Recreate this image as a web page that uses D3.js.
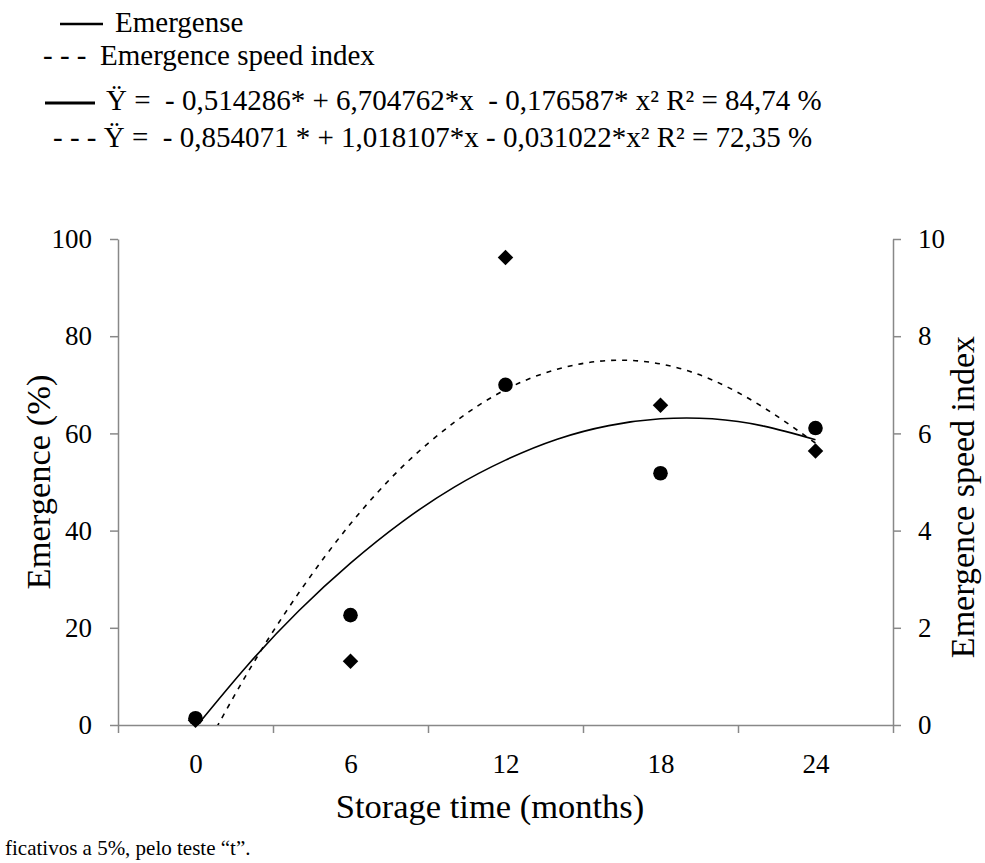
<!DOCTYPE html>
<html>
  <head>
    <meta http-equiv="content-type" content="text/html; charset=utf-8" />
    <title>Emergence and emergence speed index</title>
    <script type="text/javascript" src="https://cdn.jsdelivr.net/npm/d3@7"></script>
    <style type="text/css">
      body { margin: 0; background: #fff; }
      text { font-family: "Liberation Serif", "Times New Roman", serif; fill: #000; }
      .axis path, .axis line { stroke: #888; stroke-width: 1.5; }
    </style>
  </head>
  <body>
    <script type="text/javascript">
// observed values (circles = emergence %, diamonds = speed index)
var months = [0, 6, 12, 18, 24];
var emergence = [1.4, 22.6, 70.0, 51.8, 61.1];
var speedIndex = [0.1, 1.31, 9.62, 6.58, 5.64];

// fitted curves, every 2 months
var fitMonths = [0, 2, 4, 6, 8, 10, 12, 14, 16, 18, 20, 22, 24];
var emergenceFit = [-0.5, 12.2, 23.5, 33.3, 41.8, 48.9, 54.5, 58.8, 61.6, 63.0, 63.0, 61.5, 58.7];
var speedIndexFit = [-0.85, 1.06, 2.72, 4.14, 5.31, 6.22, 6.90, 7.32, 7.50, 7.43, 7.10, 6.53, 5.8];

var xTicks = [-3, 3, 9, 15, 21, 27];
var xLabels = [0, 6, 12, 18, 24];
var leftTicks = [0, 20, 40, 60, 80, 100];
var rightTicks = [0, 2, 4, 6, 8, 10];

var legendLines = [
  "Emergense",
  "Emergence speed index",
  "\u0178 =  - 0,514286* + 6,704762*x  - 0,176587* x\u00b2 R\u00b2 = 84,74 %",
  "- - - \u0178 =  - 0,854071 * + 1,018107*x - 0,031022*x\u00b2 R\u00b2 = 72,35 %"
];
var footnote = "ficativos a 5%, pelo teste \u201ct\u201d.";

// plot box (window.top is read-only, so no bare "top" here)
var w = 985, h = 863,
    pL = 118, pR = 893, pT = 239, pB = 725;

var svg = d3.select('body').append('svg')
    .attr('width', w)
    .attr('height', h);

var x = d3.scaleLinear().domain([-3, 27]).range([pL, pR]);
var y = d3.scaleLinear().domain([0, 100]).range([pB, pT]);
var y2 = d3.scaleLinear().domain([0, 10]).range([pB, pT]);

// axes
svg.append('g').attr('class', 'axis')
  .attr('transform', 'translate(0,' + pB + ')')
  .call(d3.axisBottom(x).tickValues(xTicks).tickSize(8).tickSizeOuter(0).tickFormat(''));

var xl = svg.append('g')
  .attr('transform', 'translate(0,' + pB + ')')
  .call(d3.axisBottom(x).tickValues(xLabels).tickSize(0).tickPadding(29));
xl.select('.domain').remove();
xl.selectAll('text').style('font-size', '27px');

var yl = svg.append('g').attr('class', 'axis')
  .attr('transform', 'translate(' + pL + ',0)')
  .call(d3.axisLeft(y).tickValues(leftTicks).tickSize(8).tickSizeOuter(0).tickPadding(18));
yl.selectAll('text').style('font-size', '27px');

var yr = svg.append('g').attr('class', 'axis')
  .attr('transform', 'translate(' + pR + ',0)')
  .call(d3.axisRight(y2).tickValues(rightTicks).tickSize(8).tickSizeOuter(0).tickPadding(17));
yr.selectAll('text').style('font-size', '27px');

// axis titles
svg.append('text')
  .attr('x', 490).attr('y', 818)
  .attr('text-anchor', 'middle')
  .style('font-size', '34.5px')
  .text('Storage time (months)');

svg.append('text')
  .attr('transform', 'translate(50,482) rotate(-90)')
  .attr('text-anchor', 'middle')
  .style('font-size', '34.5px')
  .text('Emergence (%)');

svg.append('text')
  .attr('transform', 'translate(974,497) rotate(-90)')
  .attr('text-anchor', 'middle')
  .style('font-size', '34px')
  .text('Emergence speed index');

// fitted curves, clipped to the plot area
svg.append('clipPath').attr('id', 'plot')
  .append('rect')
  .attr('x', pL).attr('y', pT)
  .attr('width', pR - pL).attr('height', pB - pT);

var curveG = svg.append('g').attr('clip-path', 'url(#plot)');

var solid = d3.line()
  .x(function(d, i) { return x(fitMonths[i]); })
  .y(function(d) { return y(d); })
  .curve(d3.curveNatural);

var dashed = d3.line()
  .x(function(d, i) { return x(fitMonths[i]); })
  .y(function(d) { return y2(d); })
  .curve(d3.curveNatural);

curveG.append('path')
  .attr('d', solid(emergenceFit))
  .attr('fill', 'none')
  .attr('stroke', '#000')
  .attr('stroke-width', 1.6);

curveG.append('path')
  .attr('d', dashed(speedIndexFit))
  .attr('fill', 'none')
  .attr('stroke', '#000')
  .attr('stroke-width', 1.6)
  .attr('stroke-dasharray', '5,6');

// points
var diamond = d3.symbol().type(d3.symbolSquare).size(120);

svg.selectAll('path.esi')
  .data(speedIndex)
  .enter()
  .append('path')
    .attr('class', 'esi')
    .attr('d', diamond)
    .attr('transform', function(d, i) {
      return 'translate(' + x(months[i]) + ',' + y2(d) + ') rotate(45)';
    })
    .attr('fill', '#000');

svg.selectAll('circle.em')
  .data(emergence)
  .enter()
  .append('circle')
    .attr('class', 'em')
    .attr('cx', function(d, i) { return x(months[i]); })
    .attr('cy', function(d) { return y(d); })
    .attr('r', 7.3)
    .attr('fill', '#000');

// legend
var lg = svg.append('g').style('font-size', '29px');

lg.append('line')
  .attr('x1', 60).attr('x2', 103).attr('y1', 24).attr('y2', 24)
  .attr('stroke', '#000').attr('stroke-width', 2.5);
lg.append('text').attr('x', 115).attr('y', 32).text(legendLines[0]);

lg.append('text').attr('x', 43).attr('y', 65).style('white-space', 'pre').text('- - -');
lg.append('text').attr('x', 100).attr('y', 65).text(legendLines[1]);

lg.append('line')
  .attr('x1', 45).attr('x2', 95).attr('y1', 103).attr('y2', 103)
  .attr('stroke', '#000').attr('stroke-width', 3);
lg.append('text').attr('x', 106).attr('y', 110).style('white-space', 'pre').text(legendLines[2]);

lg.append('text').attr('x', 53).attr('y', 147).style('white-space', 'pre').text(legendLines[3]);

// cut-off caption line at the bottom
svg.append('text')
  .attr('x', 5).attr('y', 855)
  .style('font-size', '21px')
  .text(footnote);
    </script>
  </body>
</html>
